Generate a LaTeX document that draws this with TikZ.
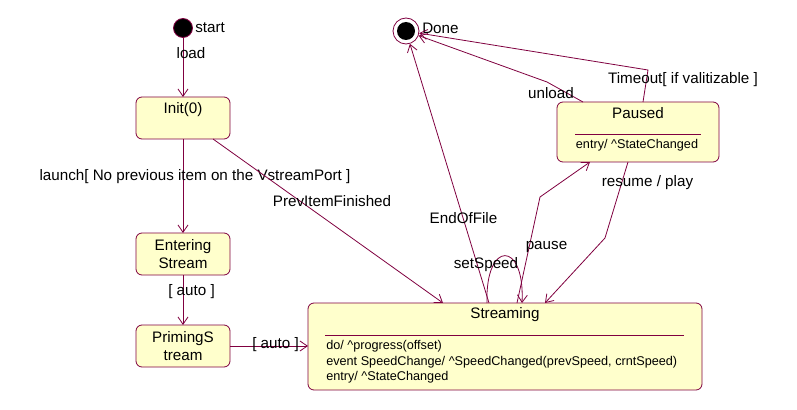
\documentclass[tikz,border=0pt]{standalone}
\usepackage{fontspec}
\setmainfont{Liberation Sans}
\usetikzlibrary{arrows.meta,calc}
\definecolor{edge}{RGB}{128,0,64}
\definecolor{statefill}{RGB}{255,255,204}
\begin{document}
\begin{tikzpicture}[x=0.75pt,y=-0.75pt,
  state/.style={draw=edge, fill=statefill, rounded corners=4.5pt, line width=0.6pt, inner sep=0pt, outer sep=0pt, font=\fontsize{11.4}{13.5}\selectfont},
  lbl/.style={inner sep=0pt, font=\fontsize{11.4}{13.5}\selectfont},
  act/.style={inner sep=0pt, anchor=west, font=\fontsize{9.5}{11}\selectfont},
  tr/.style={draw=edge, line width=0.6pt, -{Straight Barb[length=5.5pt,width=7.5pt]}},
  sep/.style={draw=edge, line width=0.6pt},
]
\useasboundingbox (0,0) rectangle (797,410);
\fill[white] (0,0) rectangle (797,410);

% pseudo states
\node[circle, fill=black, draw=edge, line width=0.6pt, minimum size=14.25pt, inner sep=0pt] (start) at (183,28) {};
\node[lbl, anchor=west] (startl) at (195,28) {start};
\node[circle, draw=edge, fill=white, minimum size=19.5pt, inner sep=0pt, line width=0.6pt] (done) at (406,31) {};
\node[circle, fill=black, minimum size=13.5pt, inner sep=0pt] (donein) at (406,31) {};
\node[lbl, anchor=west] (donel) at (422,28) {Done};

% states
\node[state, minimum width=70.5pt, minimum height=31.5pt] (init) at (183,118) {};
\node[lbl] (initt) at (183,110) {Init(0)};
\node[state, minimum width=70.5pt, minimum height=31.5pt, align=center] (entering) at (183,254) {Entering\\Stream};
\node[state, minimum width=70.5pt, minimum height=31.5pt, align=center] (priming) at (183,346) {PrimingS\\tream};

\node[state, minimum width=295.5pt, minimum height=65.25pt] (streaming) at (505,346.5) {};
\node[lbl] (streamingt) at (505,315) {Streaming};
\draw[sep] (325,335.5) -- (684,335.5);
\node[act] (a1) at (326,346) {do/ \textasciicircum progress(offset)};
\node[act] (a2) at (326,362) {event SpeedChange/ \textasciicircum SpeedChanged(prevSpeed, crntSpeed)};
\node[act] (a3) at (326,377) {entry/ \textasciicircum StateChanged};

\node[state, minimum width=121.5pt, minimum height=45pt] (paused) at (638,132) {};
\node[lbl] (pausedt) at (638,113) {Paused};
\draw[sep] (575,134) -- (701,134);
\node[act, anchor=center] (p1) at (637,145) {entry/ \textasciicircum StateChanged};

% bend points
\coordinate (bpause) at (540,197);
\coordinate (bresume) at (605,238);
\coordinate (bunload) at (547,82);
\coordinate (btime) at (648,70);

% transitions
\draw[tr] (start) -- (init);
\node[lbl] (lload) at (191,53) {load};
\draw[tr] (init) -- (entering);
\node[lbl] (llaunch) at (195,177) {launch[ No previous item on the VstreamPort ]};
\draw[tr] (entering) -- (priming);
\node[lbl] (lauto1) at (191.5,292) {[ auto ]};
\draw[tr] (priming.east) -- (priming.east -| streaming.west);
\node[lbl] (lauto2) at (275.5,345) {[ auto ]};
\draw[tr] ($(init.south)+(30,0)$) -- ($(streaming.north)+(-62,0)$);
\node[lbl] (lprev) at (332,201) {PrevItemFinished};
\draw[tr] ($(streaming.north)+(-16,0)$) -- (done);
\node[lbl] (leof) at (463.5,218) {EndOfFile};
\draw[tr] ($(streaming.north)+(-18,0)$) .. controls ($(streaming.north)+(-20,-63)$) and ($(streaming.north)+(20,-63)$) .. ($(streaming.north)+(17,0)$);
\node[lbl] (lset) at (486,265) {setSpeed};
\draw[tr] ($(streaming.north)+(12,0)$) -- (bpause) -- ($(paused.south)+(-48,0)$);
\node[lbl] (lpause) at (546.5,247) {pause};
\draw[tr] ($(paused.south)+(-10,0)$) -- (bresume) -- ($(streaming.north)+(40,0)$);
\node[lbl] (lresume) at (647.5,183) {resume / play};
\draw[tr] ($(paused.north)+(-55,0)$) -- (bunload) -- (done);
\node[lbl] (lunload) at (551,93) {unload};
\draw[tr] ($(paused.north)+(5,0)$) -- (btime) -- (done);
\node[lbl] (ltime) at (683,80) {Timeout[ if valitizable ]};
\end{tikzpicture}
\end{document}
